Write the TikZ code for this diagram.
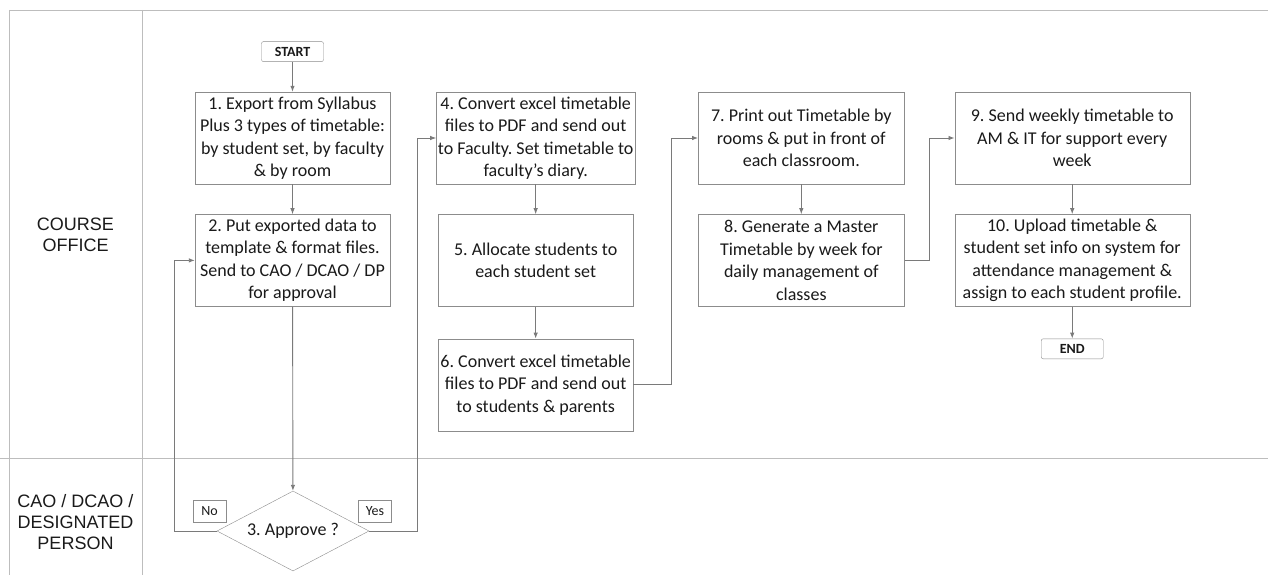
\documentclass[tikz,border=0pt]{standalone}
\usepackage{fontspec}
\setmainfont{Carlito}
\newfontfamily\lanefont{Liberation Sans}
\usepackage{tikz}
\usetikzlibrary{arrows.meta,positioning,shapes.geometric}
\definecolor{Ink}{HTML}{1A1A1A}
\definecolor{Frame}{HTML}{8C8C8C}
\definecolor{Wire}{HTML}{7A7A7A}
\definecolor{LaneRule}{HTML}{BDBDBD}
\frenchspacing

\begin{document}
\begin{tikzpicture}[x=1pt,y=-1pt,
  box/.style={draw=Frame,fill=white,minimum width=195pt,minimum height=92pt,inner sep=1.5pt,align=center,text=Ink,font=\fontsize{18}{22.5}\selectfont},
  term/.style={draw=Frame,fill=white,rounded corners=2pt,minimum width=62pt,minimum height=20pt,inner sep=0pt,text=Ink,font=\bfseries\fontsize{14}{16}\selectfont},
  decision/.style={diamond,aspect=1.9,draw=Frame,fill=white,minimum width=152pt,minimum height=80pt,inner sep=0pt,text=Ink,font=\fontsize{18}{22.5}\selectfont},
  tag/.style={draw=Frame,minimum width=33pt,minimum height=22pt,inner sep=0pt,text=Ink,font=\fontsize{14}{16}\selectfont},
  lanetext/.style={align=center,text=Ink,font=\lanefont\fontsize{18}{21}\selectfont},
  lane/.style={draw=LaneRule,line width=0.8pt},
  arrow/.style={-{Latex[length=6pt,width=4.5pt]},draw=Wire,line width=0.9pt}
]
  \useasboundingbox (0,0) rectangle (1268,575);
  \draw[lane] (9,10) -- (1268,10);
  \draw[lane] (9,10) -- (9,575);
  \draw[lane] (142,10) -- (142,575);
  \draw[lane] (0,458) -- (1268,458);
  \node[lanetext] (office) at (75.5,235) {COURSE\\OFFICE};
  \node[lanetext] (approver) at (75.5,522) {CAO / DCAO /\\DESIGNATED\\PERSON};

  \node[box] (b1) at (292.5,138) {1. Export from Syllabus\\Plus 3 types of timetable:\\by student set, by faculty\\\& by room};
  \node[term,above=30pt of b1] (start) {START};
  \node[box,below=30pt of b1] (b2) {2. Put exported data to\\template \& format files.\\Send to CAO / DCAO / DP\\for approval};
  \node[decision] (dec) at (293,531) {3. Approve ?};
  \node[tag] (no) at (209.5,511) {No};
  \node[tag] (yes) at (375,511) {Yes};
  \node[box,right=46pt of b1] (b4) {4. Convert excel timetable\\files to PDF and send out\\to Faculty. Set timetable to\\faculty's diary.};
  \node[box,below=30pt of b4] (b5) {5. Allocate students to\\each student set};
  \node[box,below=32pt of b5] (b6) {6. Convert excel timetable\\files to PDF and send out\\to students \& parents};
  \node[box,minimum width=206pt,right=63pt of b4] (b7) {7. Print out Timetable by\\rooms \& put in front of\\each classroom.};
  \node[box,minimum width=206pt,below=30pt of b7] (b8) {8. Generate a Master\\Timetable by week for\\daily management of\\classes};
  \node[box,minimum width=235pt,right=50pt of b7] (b9) {9. Send weekly timetable to\\AM \& IT for support every\\week};
  \node[box,minimum width=235pt,below=30pt of b9] (b10) {10. Upload timetable \&\\student set info on system for\\attendance management \&\\assign to each student profile.};
  \node[term,below=32pt of b10] (end) {END};

  \draw[arrow] (start) -- (b1);
  \draw[arrow] (b1) -- (b2);
  \draw[arrow] (b2) -- (dec);
  \draw[arrow] (dec.west) -- ++(-42,0) |- (b2.west);
  \draw[arrow] (dec.east) -- ++(48,0) |- (b4.west);
  \draw[arrow] (b4) -- (b5);
  \draw[arrow] (b5) -- (b6);
  \draw[arrow] (b6.east) -- ++(38,0) |- (b7.west);
  \draw[arrow] (b7) -- (b8);
  \draw[arrow] (b8.east) -- ++(25,0) |- (b9.west);
  \draw[arrow] (b9) -- (b10);
  \draw[arrow] (b10) -- (end);
\end{tikzpicture}
\end{document}
